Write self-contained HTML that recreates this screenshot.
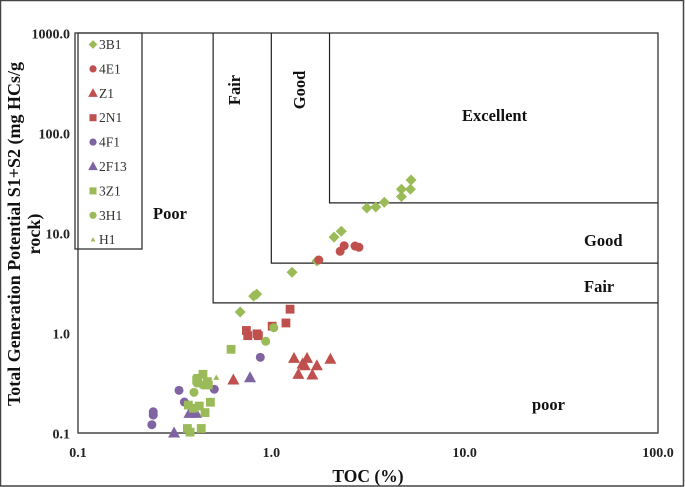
<!DOCTYPE html>
<html>
<head>
<meta charset="utf-8">
<title>TOC vs Total Generation Potential</title>
<style>
html,body{margin:0;padding:0;background:#fff;width:685px;height:487px;overflow:hidden}
svg{display:block;font-family:"Liberation Serif",serif}
.tick{font-size:14px;font-weight:bold;fill:#222}
.zone{font-size:16.5px;font-weight:bold;fill:#111}
.title{font-size:18px;font-weight:bold;fill:#111}
.xtitle{font-size:17.5px;font-weight:bold;fill:#111}
.leg{font-size:13.5px;fill:#333}
</style>
</head>
<body>
<svg id="chart" width="685" height="487" viewBox="0 0 685 487" xmlns="http://www.w3.org/2000/svg">
<rect x="0.5" y="0.5" width="683" height="485.5" fill="#fff" stroke="#444" stroke-width="1.5"/>
<g id="zones" fill="none" stroke="#222" stroke-width="1.2"></g>
<g id="marks"></g>
<rect x="75" y="33" width="67" height="216" fill="none" stroke="#333" stroke-width="1.3"/>
<g id="legend"></g>
<g id="xticks"></g>
<g id="yticks"></g>
<text class="zone" x="153" y="219">Poor</text>
<text class="zone" transform="translate(240,90) rotate(-90)" text-anchor="middle">Fair</text>
<text class="zone" transform="translate(305,90) rotate(-90)" text-anchor="middle">Good</text>
<text class="zone" x="462" y="121">Excellent</text>
<text class="zone" x="584" y="246">Good</text>
<text class="zone" x="584" y="292">Fair</text>
<text class="zone" x="532" y="410">poor</text>
<text class="xtitle" x="368" y="482" text-anchor="middle">TOC (%)</text>
<text class="title" transform="translate(20,234) rotate(-90)" text-anchor="middle">Total Generation Potential S1+S2 (mg HCs/g</text>
<text class="title" transform="translate(40,234) rotate(-90)" text-anchor="middle">rock)</text>
</svg>
<script>
var xTickValues = [0.1, 1, 10, 100];
var xTickLabels = ["0.1", "1.0", "10.0", "100.0"];
var yTickValues = [1000, 100, 10, 1, 0.1];
var yTickLabels = ["1000.0", "100.0", "10.0", "1.0", "0.1"];

var seriesNames = ["3B1", "4E1", "Z1", "2N1", "4F1", "2F13", "3Z1", "3H1", "H1"];
var seriesShapes = ["diamond", "circle", "triangle", "square", "circle", "triangle", "square", "circle", "small-triangle"];
var seriesColors = ["#9BBB59", "#C0504D", "#C0504D", "#C0504D", "#8064A2", "#8064A2", "#9BBB59", "#9BBB59", "#9BBB59"];

var toc3B1 = [5.28, 4.71, 5.24, 4.71, 3.84, 3.47, 3.12, 2.30, 2.11, 1.72, 1.28, 0.84, 0.81, 0.69];
var pot3B1 = [33.9, 27.4, 27.4, 23.1, 20.3, 18.2, 17.8, 10.4, 9.1, 5.25, 4.05, 2.45, 2.34, 1.62];
var toc4E1 = [2.38, 2.27, 2.71, 2.84, 1.76];
var pot4E1 = [7.46, 6.56, 7.41, 7.2, 5.37];
var tocZ1 = [1.31, 1.53, 2.02, 1.45, 1.49, 1.72, 1.38, 1.63, 0.636];
var potZ1 = [0.558, 0.558, 0.546, 0.49, 0.471, 0.471, 0.386, 0.38, 0.339];
var toc2N1 = [1.25, 1.19, 1.01, 0.743, 0.755, 0.843, 0.857];
var pot2N1 = [1.73, 1.26, 1.17, 1.06, 0.94, 0.98, 0.94];
var toc4F1 = [0.877, 0.333, 0.507, 0.355, 0.245, 0.245, 0.241];
var pot4F1 = [0.571, 0.267, 0.274, 0.204, 0.163, 0.151, 0.121];
var toc2F13 = [0.776, 0.377, 0.408, 0.314];
var pot2F13 = [0.357, 0.157, 0.157, 0.1];
var toc3Z1 = [0.619, 0.443, 0.416, 0.411, 0.467, 0.472, 0.484, 0.372, 0.424, 0.395, 0.454, 0.368, 0.38, 0.434];
var pot3Z1 = [0.687, 0.386, 0.352, 0.339, 0.326, 0.302, 0.203, 0.19, 0.186, 0.177, 0.16, 0.111, 0.102, 0.111];
var toc3H1 = [1.03, 0.935, 0.398, 0.413, 0.443, 0.471];
var pot3H1 = [1.13, 0.826, 0.255, 0.316, 0.302, 0.316];
var tocH1 = [0.519];
var potH1 = [0.357];

var seriesToc = [toc3B1, toc4E1, tocZ1, toc2N1, toc4F1, toc2F13, toc3Z1, toc3H1, tocH1];
var seriesPot = [pot3B1, pot4E1, potZ1, pot2N1, pot4F1, pot2F13, pot3Z1, pot3H1, potH1];

var zoneToc = [0.5, 1, 2];
var zonePot = [2, 5, 20];

var NS = "http://www.w3.org/2000/svg";
function xScale(v) { return 78 + (Math.log10(v) + 1) * 193.33; }
function yScale(v) { return 433 - (Math.log10(v) + 1) * 100; }

function drawShape(parent, shape, cx, cy, color, k) {
  var el;
  if (shape === "circle") {
    el = document.createElementNS(NS, "circle");
    el.setAttribute("cx", cx);
    el.setAttribute("cy", cy);
    el.setAttribute("r", 4.5 * k);
  } else if (shape === "square") {
    el = document.createElementNS(NS, "rect");
    el.setAttribute("x", cx - 4.4 * k);
    el.setAttribute("y", cy - 4.4 * k);
    el.setAttribute("width", 8.8 * k);
    el.setAttribute("height", 8.8 * k);
  } else {
    el = document.createElementNS(NS, "polygon");
    var pts;
    if (shape === "diamond") {
      pts = [[cx, cy - 5.5 * k], [cx + 5.5 * k, cy], [cx, cy + 5.5 * k], [cx - 5.5 * k, cy]];
    } else if (shape === "triangle") {
      pts = [[cx, cy - 6.5 * k], [cx + 6 * k, cy + 4.5 * k], [cx - 6 * k, cy + 4.5 * k]];
    } else {
      pts = [[cx, cy - 3.2 * k], [cx + 3 * k, cy + 2.2 * k], [cx - 3 * k, cy + 2.2 * k]];
    }
    el.setAttribute("points", pts.map(function (p) { return p.join(","); }).join(" "));
  }
  el.setAttribute("fill", color);
  parent.appendChild(el);
  return el;
}

var zones = document.getElementById("zones");
var outer = document.createElementNS(NS, "rect");


outer.setAttribute("x", xScale(0.1));
outer.setAttribute("y", yScale(1000));
outer.setAttribute("width", xScale(100) - xScale(0.1));
outer.setAttribute("height", yScale(0.1) - yScale(1000));
zones.appendChild(outer);
zoneToc.forEach(function (t, i) {
  var p = document.createElementNS(NS, "path");
  
  
  p.setAttribute("d", "M" + xScale(t) + " " + yScale(1000) + "V" + yScale(zonePot[i]) + "H" + xScale(100));
  zones.appendChild(p);
});
var xAxisLine = document.createElementNS(NS, "line");


xAxisLine.setAttribute("x1", xScale(0.1));
xAxisLine.setAttribute("x2", xScale(100));
xAxisLine.setAttribute("y1", yScale(0.1));
xAxisLine.setAttribute("y2", yScale(0.1));
xAxisLine.setAttribute("stroke", "#555");
xAxisLine.setAttribute("stroke-width", "1.6");
zones.appendChild(xAxisLine);

var marks = document.getElementById("marks");
seriesNames.forEach(function (name, s) {
  var g = document.createElementNS(NS, "g");
  
  
  marks.appendChild(g);
  seriesToc[s].forEach(function (t, i) {
    var m = drawShape(g, seriesShapes[s], xScale(t), yScale(seriesPot[s][i]), seriesColors[s], 1);
    
    
  });
});

var legend = document.getElementById("legend");
seriesNames.forEach(function (name, s) {
  var rowY = 44.5 + s * 24.4;
  var row = document.createElementNS(NS, "g");
  
  
  legend.appendChild(row);
  var m = drawShape(row, seriesShapes[s], 93, rowY, seriesColors[s], 0.8);
  
  
  var t = document.createElementNS(NS, "text");
  
  
  t.setAttribute("class", "leg");
  t.setAttribute("x", 99);
  t.setAttribute("y", rowY + 4.5);
  t.textContent = name;
  row.appendChild(t);
});

var xticks = document.getElementById("xticks");
xTickValues.forEach(function (v, i) {
  var t = document.createElementNS(NS, "text");
  
  
  t.setAttribute("class", "tick");
  t.setAttribute("x", xScale(v));
  t.setAttribute("y", 457);
  t.setAttribute("text-anchor", "middle");
  t.textContent = xTickLabels[i];
  xticks.appendChild(t);
});

var yticks = document.getElementById("yticks");
yTickValues.forEach(function (v, i) {
  var t = document.createElementNS(NS, "text");
  
  
  t.setAttribute("class", "tick");
  t.setAttribute("x", 70);
  t.setAttribute("y", yScale(v) + 5.5);
  t.setAttribute("text-anchor", "end");
  t.textContent = yTickLabels[i];
  yticks.appendChild(t);
});
</script>
</body>
</html>
